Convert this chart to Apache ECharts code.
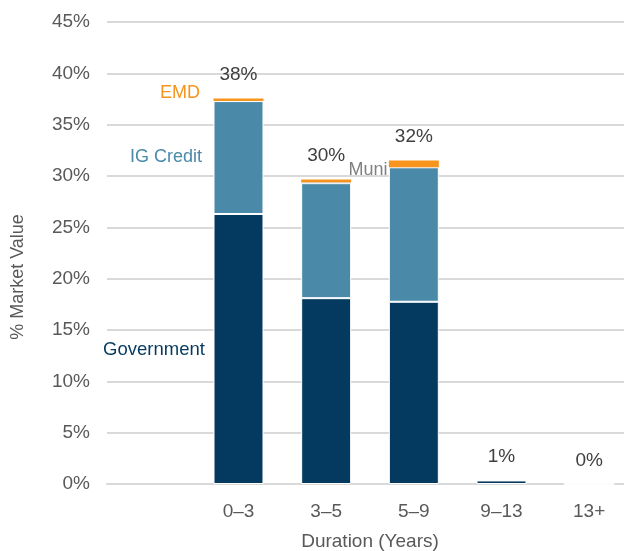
<!DOCTYPE html>
<html><head><meta charset="utf-8">
<script src="https://cdn.jsdelivr.net/npm/echarts@6/dist/echarts.min.js"></script>
<style>html,body{margin:0;padding:0;background:#fff;overflow:hidden}#c{width:624px;height:551px}</style>
</head><body><div id="c"></div>
<script>
const categories = ['', '0–3', '3–5', '5–9', '9–13', '13+'];
const government = [null, 26.3, 18.1, 17.75, 0.35, 0];
const igCredit   = [null, 11.0, 11.2, 13.1, 0, 0];
const muni       = [null, 0, 0.1, 0, 0, 0];
const emd        = [null, 0.25, 0.25, 0.65, 0, 0];
const totalLabels = ['', '38%', '30%', '32%', '1%', '0%'];
const yTicks = [0, 5, 10, 15, 20, 25, 30, 35, 40, 45];

const FONT = '"Liberation Sans", Arial, sans-serif';
const GRAY = '#595959';
const chart = echarts.init(document.getElementById('c'), null, {renderer: 'canvas'});
const barBase = {type: 'bar', stack: 'tot', barCategoryGap: '43%'};
chart.setOption({
  animation: false,
  textStyle: {fontFamily: FONT},
  grid: {left: 107, top: 22, height: 462, width: 526, containLabel: false, outerBoundsMode: 'none'},
  xAxis: {
    type: 'category', data: categories,
    axisLine: {lineStyle: {color: '#d9d9d9', width: 2}},
    axisTick: {show: false},
    axisLabel: {color: GRAY, fontSize: 19, margin: 18, fontFamily: FONT, interval: 0},
    name: 'Duration (Years)', nameLocation: 'middle', nameGap: 48,
    nameTextStyle: {color: GRAY, fontSize: 19, fontFamily: FONT}
  },
  yAxis: {
    type: 'value', min: yTicks[0], max: yTicks[yTicks.length - 1], interval: 5,
    axisLine: {show: false}, axisTick: {show: false},
    splitLine: {lineStyle: {color: '#d9d9d9', width: 2}},
    axisLabel: {color: GRAY, fontSize: 19, margin: 17, fontFamily: FONT, formatter: '{value}%'}
  },
  series: [
    Object.assign({}, barBase, {name: 'Government', data: government, itemStyle: {color: '#043A5F', borderColor: '#fff', borderWidth: 1}}),
    Object.assign({}, barBase, {name: 'IG Credit', data: igCredit, itemStyle: {color: '#4A8AA8', borderColor: '#fff', borderWidth: 1}}),
    Object.assign({}, barBase, {name: 'Muni', data: muni, itemStyle: {color: '#d0d0d0', borderWidth: 0}}),
    Object.assign({}, barBase, {name: 'EMD', data: emd, itemStyle: {color: '#F7941D', borderWidth: 0}}),
    Object.assign({}, barBase, {name: 'Total', data: categories.map((c, i) => i === 0 ? null : 0),
      itemStyle: {color: 'transparent'},
      label: {show: true, position: 'top', distance: 14, color: '#404040', fontSize: 19, fontFamily: FONT,
        formatter: p => totalLabels[p.dataIndex]}})
  ],
  graphic: [
    {type: 'text', x: 18, y: 277, rotation: Math.PI / 2, style: {text: '% Market Value', fill: GRAY, font: '18px ' + FONT, textAlign: 'center', textVerticalAlign: 'middle'}},
    {type: 'text', x: 180, y: 93, style: {text: 'EMD', fill: '#F7941D', font: '18px ' + FONT, textAlign: 'center', textVerticalAlign: 'middle'}},
    {type: 'text', x: 166, y: 157, style: {text: 'IG Credit', fill: '#4A8AA8', font: '18px ' + FONT, textAlign: 'center', textVerticalAlign: 'middle'}},
    {type: 'text', x: 154, y: 350, style: {text: 'Government', fill: '#043A5F', font: '18.5px ' + FONT, textAlign: 'center', textVerticalAlign: 'middle'}},
    {type: 'text', x: 368, y: 170, style: {text: 'Muni', fill: '#808080', font: '18px ' + FONT, textAlign: 'center', textVerticalAlign: 'middle'}}
  ]
});
</script></body></html>
